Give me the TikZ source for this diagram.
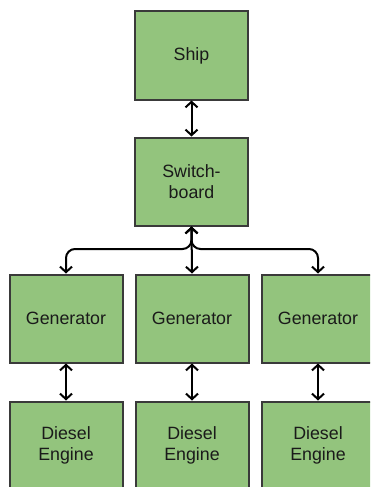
\documentclass[tikz,border=0pt]{standalone}
\usepackage{fontspec}
\setmainfont{Liberation Sans}
\usetikzlibrary{arrows.meta}
\definecolor{boxfill}{HTML}{93C47D}
\definecolor{boxline}{HTML}{3A3A3A}
\definecolor{txt}{HTML}{1A1A1A}
\tikzset{
  blk/.style={draw=boxline, line width=2pt, fill=boxfill, minimum width=113pt, minimum height=88pt,
    inner sep=0pt, align=center, text=txt, font=\fontsize{17.8}{20.5}\selectfont},
  conn/.style={line width=2pt, {Straight Barb[length=5.5pt,width=12pt,line width=2pt]}-{Straight Barb[length=5.5pt,width=12pt,line width=2pt]}},
}
\begin{document}
\begin{tikzpicture}[x=1pt,y=-1pt]
\useasboundingbox (0,0) rectangle (370,487);
\clip (0,0) rectangle (370,487);
\node[blk] (ship) at (191.5,55.5) {Ship};
\node[blk] (sw) at (191.5,181.5) {Switch-\\board};
\node[blk] (g1) at (66,318.5) {Generator};
\node[blk] (g2) at (192,318.5) {Generator};
\node[blk] (g3) at (318,318.5) {Generator};
\node[blk] (d1) at (66,445.5) {Diesel\\Engine};
\node[blk] (d2) at (192,445.5) {Diesel\\Engine};
\node[blk] (d3) at (318,445.5) {Diesel\\Engine};
\draw[conn] (ship.south) -- (sw.north);
\draw[conn] (sw.south) -- (g2.north);
\draw[conn, rounded corners=9pt] (sw.south) |- (125,249) -| (g1.north);
\draw[conn, rounded corners=9pt] (sw.south) |- (260,249) -| (g3.north);
\draw[conn] (g1.south) -- (d1.north);
\draw[conn] (g2.south) -- (d2.north);
\draw[conn] (g3.south) -- (d3.north);
\end{tikzpicture}
\end{document}
